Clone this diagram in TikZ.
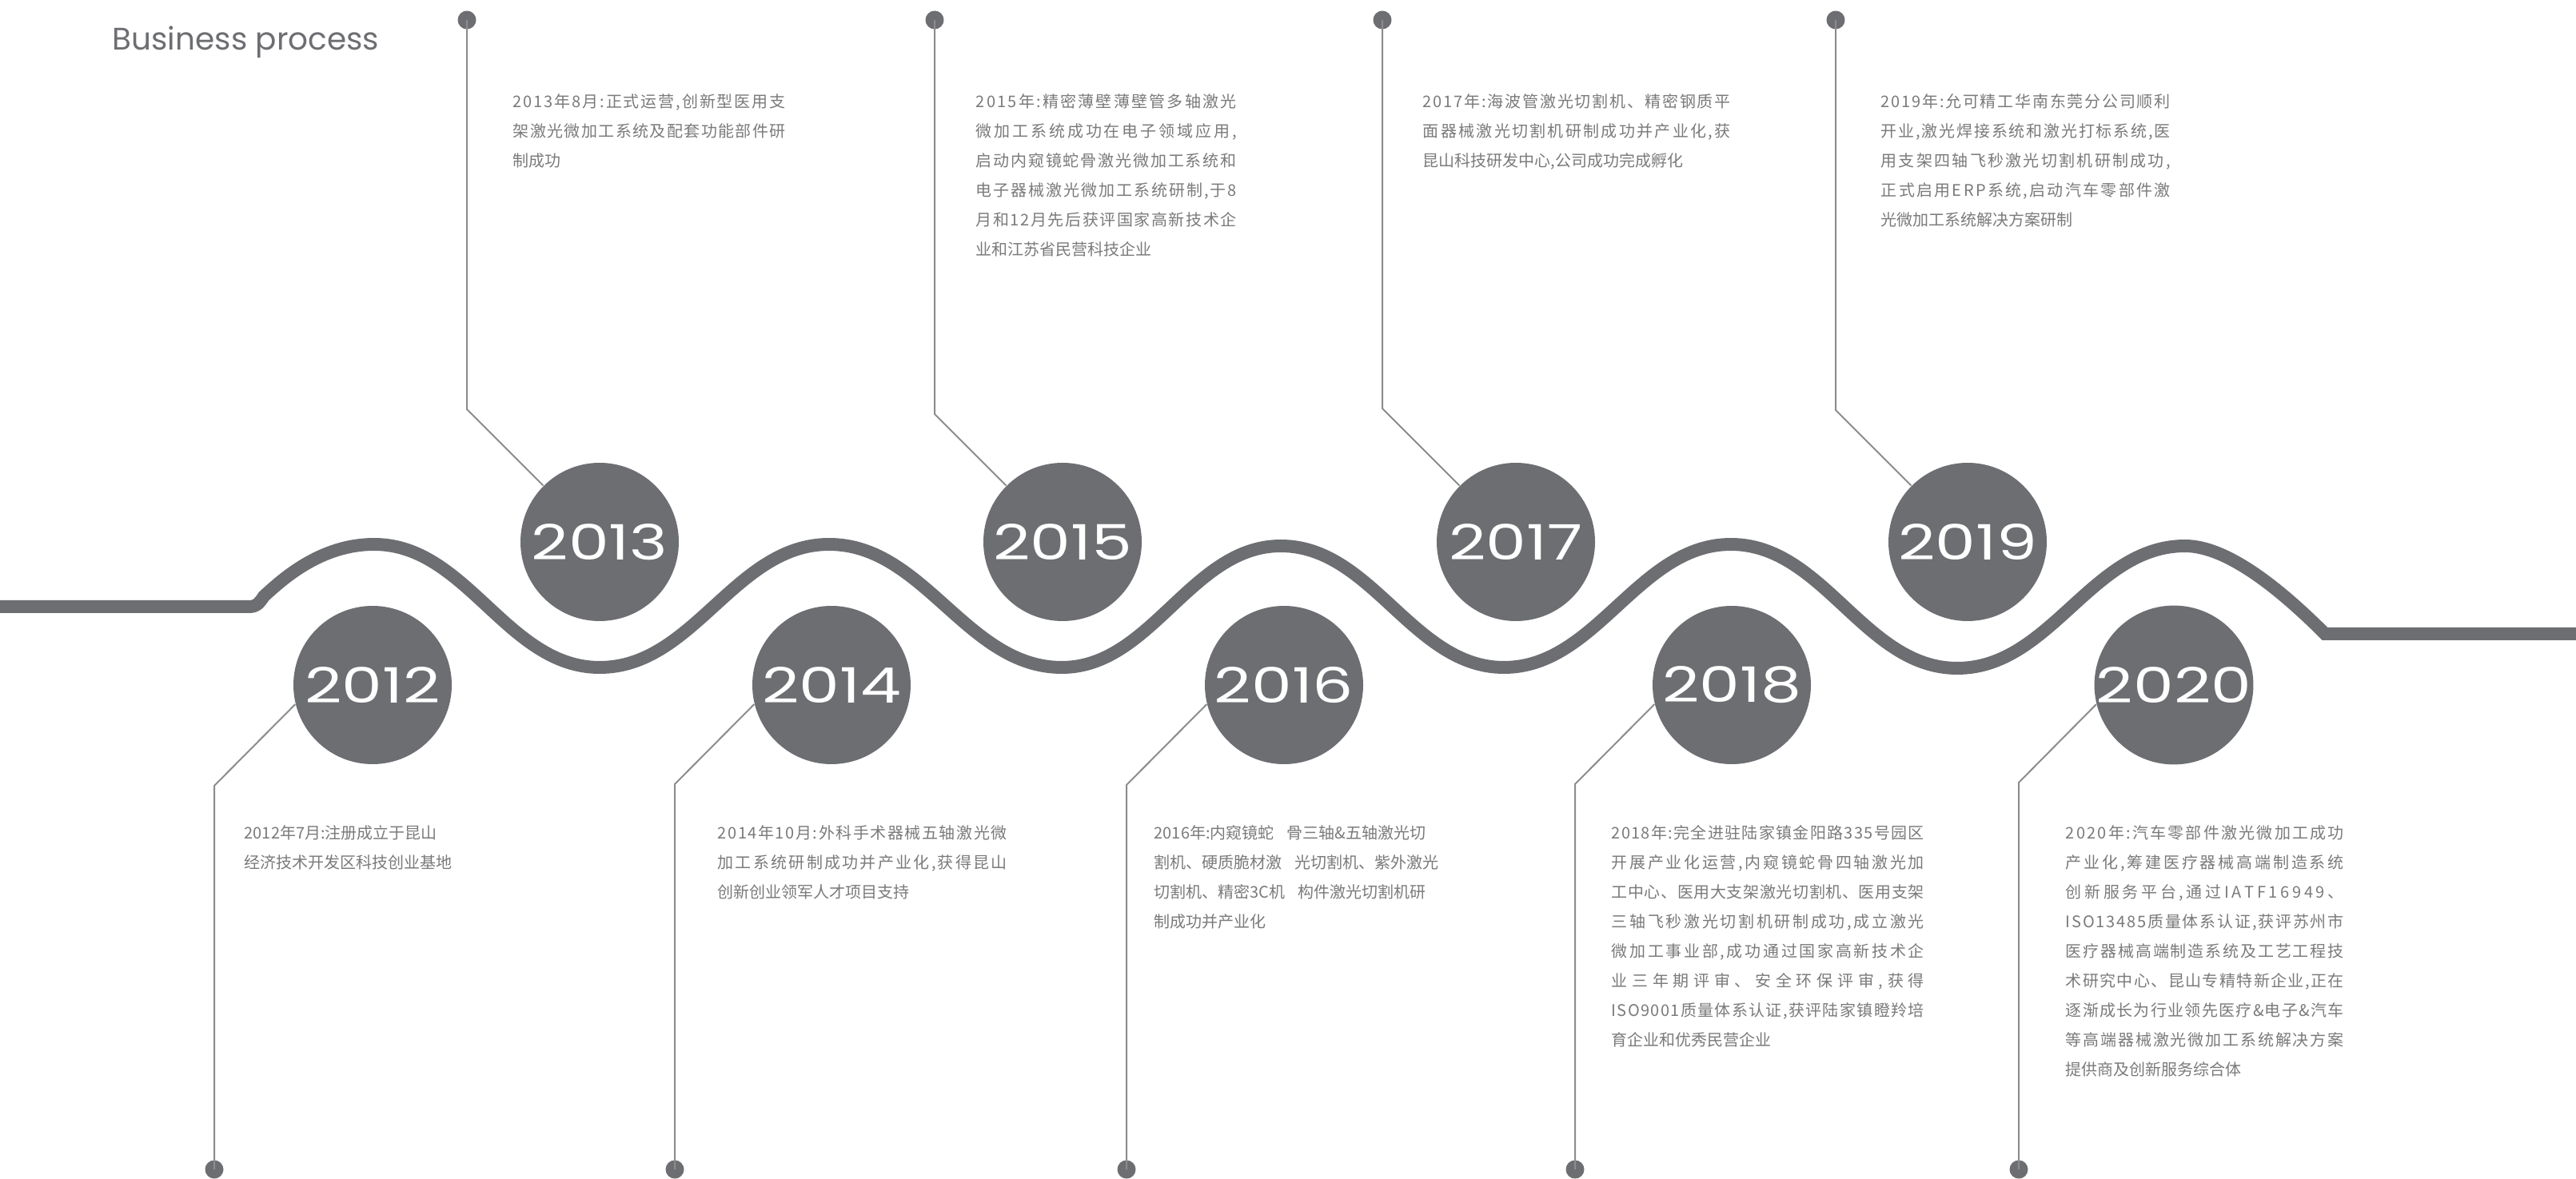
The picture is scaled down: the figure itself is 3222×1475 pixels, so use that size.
\documentclass[tikz,border=0pt]{standalone}
\usepackage{graphicx}
\usepackage{fontspec}
\setmainfont{Noto Sans CJK SC}
\newfontfamily\cjk{Noto Sans CJK SC}
\newfontfamily\yearfont{Poppins}
\definecolor{wavegray}{HTML}{6D6E72}
\definecolor{leadgray}{HTML}{8C8C8C}
\definecolor{txtgray}{HTML}{7A7A7A}
\newlength\jw
\makeatletter
\def\jl#1{\makebox[\jw][s]{\jl@a#1\jl@end}}
\def\jl@end{}
\def\jl@a#1{#1\futurelet\jl@next\jl@b}
\def\jl@b{\ifx\jl@next\jl@end\expandafter\@gobble\else\hfil\expandafter\jl@a\fi}
\makeatother
\newcommand\yr[1]{\scalebox{1.32}[1]{#1}}
\tikzset{
  wave/.style={draw=wavegray, line width=1.6mm},
  yearc/.style={circle, fill=wavegray, minimum size=19.8mm, inner sep=0pt, text=white,
    font=\yearfont\fontsize{17.4pt}{17.4pt}\selectfont},
  dotn/.style={circle, fill=wavegray, minimum size=2.3mm, inner sep=0pt},
  leader/.style={draw=leadgray, line width=0.2mm},
  txt/.style={align=left, inner sep=0pt, text=txtgray, anchor=north west,
    font=\cjk\fontsize{5.69pt}{10.53pt}\selectfont},
  jbox/.style={execute at begin node={\global\jw=#1}},
  title/.style={inner sep=0pt, anchor=base west, text=wavegray,
    font=\yearfont\fontsize{11.1pt}{11.1pt}\selectfont}
}
\begin{document}
\begin{tikzpicture}[x=0.1mm, y=-0.1mm]
\useasboundingbox (0,0) rectangle (3222,1475);

% title
\node[title] (title) at (140,63) {Business process};

% wave
\draw[wave] (0,759) -- (312,759) .. controls (322,759) and (326,752) .. (330,746)
 .. controls (352,726) and (400,681) .. (468,681)
 .. controls (584,681) and (634,835) .. (750,835)
 .. controls (868,835) and (919,681) .. (1037,681)
 .. controls (1156,681) and (1209,835) .. (1328,835)
 .. controls (1440,835) and (1490,683) .. (1602,683)
 .. controls (1716,683) and (1767,835) .. (1881,835)
 .. controls (1997,835) and (2049,681) .. (2165,681)
 .. controls (2281,681) and (2332,836) .. (2448,836)
 .. controls (2565,836) and (2616,683) .. (2733,683)
 .. controls (2787,683) and (2855,740) .. (2908,793)
 -- (3222,793);

% year circles
\node[yearc] (c2012) at (466,857) {\yr{2012}};
\node[yearc] (c2013) at (750,678) {\yr{2013}};
\node[yearc] (c2014) at (1040,857) {\yr{2014}};
\node[yearc] (c2015) at (1329,678) {\yr{2015}};
\node[yearc] (c2016) at (1606,857) {\yr{2016}};
\node[yearc] (c2017) at (1896,678) {\yr{2017}};
\node[yearc] (c2018) at (2166,857) {\yr{2018}};
\node[yearc] (c2019) at (2461,678) {\yr{2019}};
\node[yearc] (c2020) at (2719,857) {\yr{2020}};

% upper dots and leaders
\node[dotn] (d2013) at (584,25) {};
\node[dotn] (d2015) at (1169,25) {};
\node[dotn] (d2017) at (1729,25) {};
\node[dotn] (d2019) at (2296,25) {};
\coordinate (b2013) at (584,512);
\coordinate (b2015) at (1169,518);
\coordinate (b2017) at (1729,511);
\coordinate (b2019) at (2296,513);
\draw[leader] (d2013.center) -- (b2013) -- (c2013.135);
\draw[leader] (d2015.center) -- (b2015) -- (c2015.135);
\draw[leader] (d2017.center) -- (b2017) -- (c2017.135);
\draw[leader] (d2019.center) -- (b2019) -- (c2019.135);

% lower dots and leaders
\node[dotn] (d2012) at (268,1463) {};
\node[dotn] (d2014) at (844,1463) {};
\node[dotn] (d2016) at (1409,1463) {};
\node[dotn] (d2018) at (1970,1463) {};
\node[dotn] (d2020) at (2525,1463) {};
\coordinate (b2012) at (268,983);
\coordinate (b2014) at (844,981);
\coordinate (b2016) at (1409,982);
\coordinate (b2018) at (1970,981);
\coordinate (b2020) at (2525,979);
\draw[leader] (c2012.194) -- (b2012) -- (d2012.center);
\draw[leader] (c2014.194) -- (b2014) -- (d2014.center);
\draw[leader] (c2016.194) -- (b2016) -- (d2016.center);
\draw[leader] (c2018.194) -- (b2018) -- (d2018.center);
\draw[leader] (c2020.194) -- (b2020) -- (d2020.center);

% upper texts
\node[txt, jbox=34.1mm] (t2013) at (641,117) {\jl{2013年8月:正式运营,创新型医用支}\\\jl{架激光微加工系统及配套功能部件研}\\制成功};
\node[txt, jbox=32.6mm] (t2015) at (1220,117) {\jl{2015年:精密薄壁薄壁管多轴激光}\\\jl{微加工系统成功在电子领域应用,}\\\jl{启动内窥镜蛇骨激光微加工系统和}\\\jl{电子器械激光微加工系统研制,于8}\\\jl{月和12月先后获评国家高新技术企}\\业和江苏省民营科技企业};
\node[txt, jbox=38.5mm] (t2017) at (1779,117) {\jl{2017年:海波管激光切割机、精密钢质平}\\\jl{面器械激光切割机研制成功并产业化,获}\\昆山科技研发中心,公司成功完成孵化};
\node[txt, jbox=36.2mm] (t2019) at (2352,117) {\jl{2019年:允可精工华南东莞分公司顺利}\\\jl{开业,激光焊接系统和激光打标系统,医}\\\jl{用支架四轴飞秒激光切割机研制成功,}\\\jl{正式启用ERP系统,启动汽车零部件激}\\光微加工系统解决方案研制};

% lower texts
\node[txt] (t2012) at (305,1032) {2012年7月:注册成立于昆山\\经济技术开发区科技创业基地};
\node[txt, jbox=36.2mm] (t2014) at (897,1032) {\jl{2014年10月:外科手术器械五轴激光微}\\\jl{加工系统研制成功并产业化,获得昆山}\\创新创业领军人才项目支持};
\node[txt] (t2016) at (1443,1032) {2016年:内窥镜蛇\hspace{0.8em}骨三轴\&五轴激光切\\割机、硬质脆材激\hspace{0.8em}光切割机、紫外激光\\切割机、精密3C机\hspace{0.8em}构件激光切割机研\\制成功并产业化};
\node[txt, jbox=39.1mm] (t2018) at (2015,1032) {\jl{2018年:完全进驻陆家镇金阳路335号园区}\\\jl{开展产业化运营,内窥镜蛇骨四轴激光加}\\\jl{工中心、医用大支架激光切割机、医用支架}\\\jl{三轴飞秒激光切割机研制成功,成立激光}\\\jl{微加工事业部,成功通过国家高新技术企}\\\jl{业三年期评审、安全环保评审,获得}\\\jl{ISO9001质量体系认证,获评陆家镇瞪羚培}\\育企业和优秀民营企业};
\node[txt, jbox=34.8mm] (t2020) at (2583,1032) {\jl{2020年:汽车零部件激光微加工成功}\\\jl{产业化,筹建医疗器械高端制造系统}\\\jl{创新服务平台,通过IATF16949、}\\\jl{ISO13485质量体系认证,获评苏州市}\\\jl{医疗器械高端制造系统及工艺工程技}\\\jl{术研究中心、昆山专精特新企业,正在}\\\jl{逐渐成长为行业领先医疗\&电子\&汽车}\\\jl{等高端器械激光微加工系统解决方案}\\提供商及创新服务综合体};
\end{tikzpicture}
\end{document}
